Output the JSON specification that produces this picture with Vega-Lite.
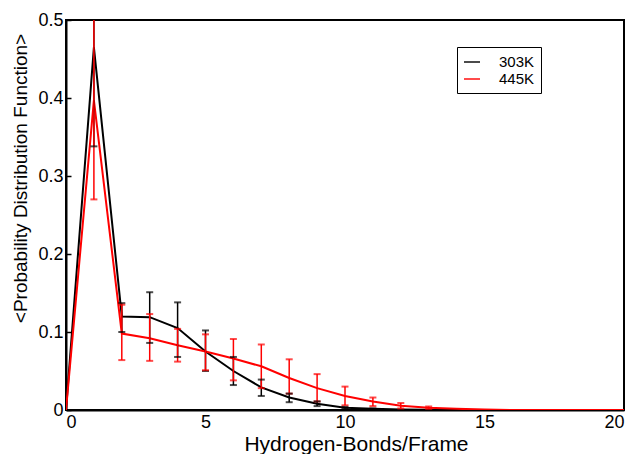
{
  "$schema": "https://vega.github.io/schema/vega-lite/v6.json",
  "width": 558,
  "height": 390,
  "autosize": "none",
  "padding": {"left": 66, "top": 20, "right": 12, "bottom": 44},
  "config": {
    "view": {"stroke": "black", "strokeWidth": 2},
    "font": "Liberation Sans",
    "axis": {"grid": false, "domainColor": "black", "domainWidth": 2, "tickColor": "black", "labelColor": "black", "titleColor": "black", "labelFontSize": 18, "titleFontWeight": "normal", "tickWidth": 1.5}
  },
  "data": {"values": [
    {"x": 0, "s": "303K", "y": 0},
    {"x": 1, "s": "303K", "y": 0.465, "lo": 0.338, "hi": 0.592},
    {"x": 2, "s": "303K", "y": 0.120, "lo": 0.100, "hi": 0.137},
    {"x": 3, "s": "303K", "y": 0.119, "lo": 0.086, "hi": 0.151},
    {"x": 4, "s": "303K", "y": 0.105, "lo": 0.068, "hi": 0.138},
    {"x": 5, "s": "303K", "y": 0.075, "lo": 0.050, "hi": 0.102},
    {"x": 6, "s": "303K", "y": 0.050, "lo": 0.032, "hi": 0.068},
    {"x": 7, "s": "303K", "y": 0.029, "lo": 0.018, "hi": 0.039},
    {"x": 8, "s": "303K", "y": 0.016, "lo": 0.010, "hi": 0.021},
    {"x": 9, "s": "303K", "y": 0.008, "lo": 0.005, "hi": 0.011},
    {"x": 10, "s": "303K", "y": 0.003, "lo": 0.002, "hi": 0.004},
    {"x": 11, "s": "303K", "y": 0.0015, "lo": 0.001, "hi": 0.002},
    {"x": 12, "s": "303K", "y": 0.0005},
    {"x": 13, "s": "303K", "y": 0.0002},
    {"x": 14, "s": "303K", "y": 0},
    {"x": 15, "s": "303K", "y": 0},
    {"x": 16, "s": "303K", "y": 0},
    {"x": 17, "s": "303K", "y": 0},
    {"x": 18, "s": "303K", "y": 0},
    {"x": 19, "s": "303K", "y": 0},
    {"x": 20, "s": "303K", "y": 0},
    {"x": 0, "s": "445K", "y": 0},
    {"x": 1, "s": "445K", "y": 0.397, "lo": 0.270, "hi": 0.524},
    {"x": 2, "s": "445K", "y": 0.098, "lo": 0.064, "hi": 0.135},
    {"x": 3, "s": "445K", "y": 0.092, "lo": 0.063, "hi": 0.123},
    {"x": 4, "s": "445K", "y": 0.083, "lo": 0.062, "hi": 0.104},
    {"x": 5, "s": "445K", "y": 0.075, "lo": 0.051, "hi": 0.097},
    {"x": 6, "s": "445K", "y": 0.066, "lo": 0.038, "hi": 0.091},
    {"x": 7, "s": "445K", "y": 0.056, "lo": 0.028, "hi": 0.084},
    {"x": 8, "s": "445K", "y": 0.041, "lo": 0.021, "hi": 0.065},
    {"x": 9, "s": "445K", "y": 0.028, "lo": 0.011, "hi": 0.046},
    {"x": 10, "s": "445K", "y": 0.018, "lo": 0.006, "hi": 0.030},
    {"x": 11, "s": "445K", "y": 0.011, "lo": 0.005, "hi": 0.016},
    {"x": 12, "s": "445K", "y": 0.0056, "lo": 0.002, "hi": 0.009},
    {"x": 13, "s": "445K", "y": 0.003, "lo": 0.0015, "hi": 0.0045},
    {"x": 14, "s": "445K", "y": 0.0015},
    {"x": 15, "s": "445K", "y": 0.0005},
    {"x": 16, "s": "445K", "y": 0},
    {"x": 17, "s": "445K", "y": 0},
    {"x": 18, "s": "445K", "y": 0},
    {"x": 19, "s": "445K", "y": 0},
    {"x": 20, "s": "445K", "y": 0}
  ]},
  "encoding": {
    "x": {"field": "x", "type": "quantitative", "scale": {"domain": [0, 20], "nice": false},
      "axis": {"values": [0, 5, 10, 15, 20], "title": "Hydrogen-Bonds/Frame", "ticks": false, "tickSize": 0, "labelPadding": 3, "titleFontSize": 21, "titleX": 290, "titleY": 40, "titleBaseline": "alphabetic"}},
    "color": {"field": "s", "type": "nominal", "scale": {"domain": ["303K", "445K"], "range": ["#000000", "#ff0000"]},
      "legend": {"title": null, "orient": "none", "legendX": 391, "legendY": 27, "strokeColor": "black", "padding": 6, "symbolType": "stroke", "symbolStrokeWidth": 2, "symbolSize": 256, "labelOffset": 18, "labelFontSize": 15, "labelColor": "black", "rowPadding": -3}}
  },
  "layer": [
    {"mark": {"type": "line", "strokeWidth": 2, "clip": true},
     "encoding": {"y": {"field": "y", "type": "quantitative", "scale": {"domain": [0, 0.5], "nice": false},
       "axis": {"values": [0, 0.05, 0.1, 0.15, 0.2, 0.25, 0.3, 0.35, 0.4, 0.45, 0.5], "labelExpr": "round(datum.value * 100) % 10 == 0 ? format(datum.value, '~g') : ''", "tickSize": -5, "labelPadding": 8, "title": "<Probability Distribution Function>", "titleFontSize": 19, "titleAngle": 270, "titleX": -46, "titleY": 158, "titleBaseline": "middle", "titleAlign": "center"}}}},
    {"transform": [{"filter": "isValid(datum.lo)"}],
     "mark": {"type": "rule", "strokeWidth": 1.5, "clip": true},
     "encoding": {"y": {"field": "lo", "type": "quantitative"}, "y2": {"field": "hi"}}},
    {"transform": [{"filter": "isValid(datum.lo)"}],
     "mark": {"type": "tick", "orient": "horizontal", "size": 7, "thickness": 2, "clip": true},
     "encoding": {"y": {"field": "lo", "type": "quantitative"}}},
    {"transform": [{"filter": "isValid(datum.hi)"}],
     "mark": {"type": "tick", "orient": "horizontal", "size": 7, "thickness": 2, "clip": true},
     "encoding": {"y": {"field": "hi", "type": "quantitative"}}}
  ]
}
